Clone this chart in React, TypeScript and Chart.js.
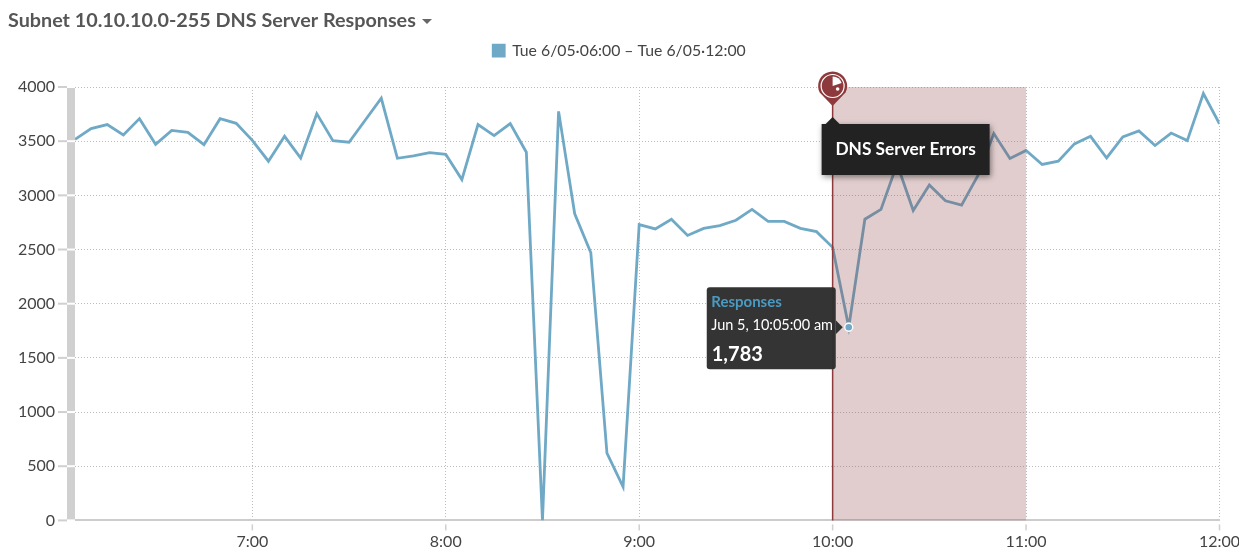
import React, { useEffect, useRef } from "react";
import { Chart, registerables } from "chart.js";

Chart.register(...registerables);

const titleText = "Subnet 10.10.10.0-255 DNS Server Responses";
const legendText = "Tue 6/05·06:00 – Tue 6/05·12:00";
const minutes = [
  365, 370, 375, 380, 385, 390, 395, 400, 405, 410, 415, 420,
  425, 430, 435, 440, 445, 450, 455, 460, 465, 470, 475, 480,
  485, 490, 495, 500, 505, 510, 515, 520, 525, 530, 535, 540,
  545, 550, 555, 560, 565, 570, 575, 580, 585, 590, 595, 600,
  605, 610, 615, 620, 625, 630, 635, 640, 645, 650, 655, 660,
  665, 670, 675, 680, 685, 690, 695, 700, 705, 710, 715, 720,
];
const responses = [
  3517, 3616, 3653, 3557, 3708, 3471, 3600, 3582, 3468, 3708, 3665, 3508,
  3315, 3545, 3345, 3754, 3505, 3490, 3693, 3896, 3342, 3364, 3395, 3379,
  3146, 3653, 3551, 3662, 3398, 0, 3775, 2830, 2470, 620, 310, 2730,
  2690, 2780, 2630, 2695, 2720, 2770, 2870, 2760, 2760, 2695, 2665, 2520,
  1783, 2780, 2870, 3290, 2860, 3095, 2950, 2910, 3180, 3570, 3340, 3415,
  3285, 3315, 3475, 3545, 3345, 3540, 3595, 3460, 3575, 3505, 3940, 3660,
];
const hourTicks = [420, 480, 540, 600, 660, 720];
const hourLabels = ["7:00", "8:00", "9:00", "10:00", "11:00", "12:00"];
const bandStart = 600;
const bandEnd = 660;
const hoverMinute = 605;
const hoverValue = 1783;
const hoverName = "Responses";
const hoverTime = "Jun 5, 10:05:00 am";
const hoverText = "1,783";
const annotationText = "DNS Server Errors";

const LINE = "#6fa9c6";
const RED = "#8e3a3c";
const GREY = "#d0d0d0";

const decor = {
  id: "decor",
  afterLayout(chart: any) {
    const t = chart.titleBlock;
    t.left += 8;
    t.right += 8;
    const l = chart.legend;
    const dx = 619.5 - (l.left + l.right) / 2;
    l.left += dx;
    l.right += dx;
    l.top -= 18.5;
    l.bottom -= 18.5;
  },
  beforeDatasetsDraw(chart: any) {
    const { ctx, scales, chartArea: a } = chart;
    const y = scales.y;
    const x = scales.x;
    ctx.save();
    ctx.fillStyle = GREY;
    ctx.fillRect(a.left - 8, a.top, 8, a.bottom - a.top);
    for (const t of y.ticks) {
      const py = y.getPixelForValue(t.value);
      ctx.fillStyle = GREY;
      ctx.fillRect(a.left - 17, py - 1, 9, 2);
      ctx.fillStyle = "#ffffff";
      ctx.fillRect(a.left - 8, py - 1, 8, 2);
    }
    ctx.fillStyle = GREY;
    for (const m of hourTicks) {
      ctx.fillRect(x.getPixelForValue(m) - 0.75, a.bottom + 4, 1.5, 6);
    }
    ctx.fillStyle = "#666666";
    ctx.beginPath();
    ctx.moveTo(422, 19);
    ctx.lineTo(432, 19);
    ctx.lineTo(427, 24);
    ctx.closePath();
    ctx.fill();
    ctx.restore();
  },
  afterDatasetsDraw(chart: any) {
    const { ctx, scales, chartArea: a } = chart;
    const x = scales.x;
    const y = scales.y;
    const bx0 = x.getPixelForValue(bandStart);
    const bx1 = x.getPixelForValue(bandEnd);
    ctx.save();
    ctx.fillStyle = "rgba(140,60,60,0.26)";
    ctx.fillRect(bx0, a.top, bx1 - bx0, a.bottom - a.top);

    // annotation stem and pin
    ctx.strokeStyle = RED;
    ctx.lineWidth = 1.5;
    ctx.beginPath();
    ctx.moveTo(bx0, a.top + 18);
    ctx.lineTo(bx0, a.bottom);
    ctx.stroke();

    const cy = a.top - 1;
    ctx.fillStyle = RED;
    ctx.beginPath();
    ctx.arc(bx0, cy, 14.5, Math.PI * 0.85, Math.PI * 0.15);
    ctx.lineTo(bx0, cy + 20);
    ctx.closePath();
    ctx.fill();
    ctx.strokeStyle = "#ffffff";
    ctx.lineWidth = 1.2;
    ctx.beginPath();
    ctx.arc(bx0, cy, 11.5, 0, Math.PI * 2);
    ctx.stroke();
    ctx.fillStyle = "#ffffff";
    ctx.beginPath();
    ctx.moveTo(bx0, cy);
    ctx.lineTo(bx0, cy - 9.5);
    ctx.arc(bx0, cy, 9.5, -Math.PI / 2, -Math.PI * 0.1);
    ctx.closePath();
    ctx.fill();
    ctx.beginPath();
    ctx.arc(bx0 + 5, cy + 3, 1.8, 0, Math.PI * 2);
    ctx.fill();

    // annotation tooltip
    const tx = bx0 - 11;
    const ty = a.top + 37;
    const tw = 168;
    const th = 51;
    ctx.save();
    ctx.shadowColor = "rgba(0,0,0,0.45)";
    ctx.shadowBlur = 6;
    ctx.shadowOffsetX = 1;
    ctx.shadowOffsetY = 2;
    ctx.fillStyle = "#222222";
    ctx.fillRect(tx, ty, tw, th);
    ctx.restore();
    ctx.fillStyle = "#222222";
    ctx.beginPath();
    ctx.moveTo(bx0 - 8, ty + 1);
    ctx.lineTo(bx0, ty - 7);
    ctx.lineTo(bx0 + 8, ty + 1);
    ctx.closePath();
    ctx.fill();
    ctx.fillStyle = "#ffffff";
    ctx.font = "bold 17.3px Lato";
    ctx.textAlign = "center";
    ctx.textBaseline = "middle";
    ctx.fillText(annotationText, tx + tw / 2, ty + th / 2);

    // hover point, above the band
    const idx = minutes.indexOf(hoverMinute);
    chart.getDatasetMeta(0).data[idx].draw(ctx);

    // hover tooltip
    const hx = x.getPixelForValue(hoverMinute);
    const hy = y.getPixelForValue(hoverValue);
    const bw = 129;
    const bh = 82;
    const bl = hx - 142;
    const bt = hy - 40;
    ctx.fillStyle = "rgba(48,48,48,0.98)";
    ctx.beginPath();
    ctx.roundRect(bl, bt, bw, bh, 3);
    ctx.fill();
    ctx.beginPath();
    ctx.moveTo(bl + bw, hy - 7);
    ctx.lineTo(bl + bw + 7, hy);
    ctx.lineTo(bl + bw, hy + 7);
    ctx.closePath();
    ctx.fill();
    ctx.textAlign = "left";
    ctx.textBaseline = "middle";
    ctx.fillStyle = "#4a9ac2";
    ctx.font = "bold 15px Lato";
    ctx.fillText(hoverName, bl + 4.5, bt + 15);
    ctx.fillStyle = "#ffffff";
    ctx.font = "14.5px Lato";
    ctx.fillText(hoverTime, bl + 4.5, bt + 38);
    ctx.font = "bold 20px Lato";
    ctx.fillText(hoverText, bl + 5, bt + 67);
    ctx.restore();
  },
};

export default function App() {
  const ref = useRef<HTMLCanvasElement>(null);
  useEffect(() => {
    const chart = new Chart(ref.current as HTMLCanvasElement, {
      type: "line",
      data: {
        datasets: [
          {
            label: legendText,
            data: minutes.map((m, i) => ({ x: m, y: responses[i] })),
            borderColor: LINE,
            backgroundColor: LINE,
            borderWidth: 2.8,
            tension: 0,
            pointRadius: (c: any) => (c.raw && c.raw.x === hoverMinute ? 4 : 0),
            pointBackgroundColor: LINE,
            pointBorderColor: "#ffffff",
            pointBorderWidth: 1.4,
          },
        ],
      },
      options: {
        responsive: false,
        animation: false,
        layout: { padding: { left: 0, right: 19.5, top: 0, bottom: 0 } },
        plugins: {
          title: {
            display: true,
            text: titleText,
            align: "start",
            color: "#565656",
            font: { family: "Lato", size: 19.75, weight: "bold" },
            padding: { top: 9, bottom: 18.5 },
          },
          legend: {
            display: true,
            position: "top",
            labels: {
              boxWidth: 11,
              boxHeight: 11,
              color: "#444444",
              font: { family: "Lato", size: 15.8 },
              padding: 10,
            },
          },
          tooltip: { enabled: false },
        },
        scales: {
          x: {
            type: "linear",
            min: 365,
            max: 720,
            afterBuildTicks: (s: any) => {
              s.ticks = hourTicks.map((v) => ({ value: v }));
            },
            afterFit: (s: any) => {
              s.height = 29.5;
              s.paddingLeft = 0;
              s.paddingRight = 0;
            },
            grid: {
              color: "#bdbdbd",
              drawTicks: false,
              lineWidth: 1,
            },
            border: { color: "#cccccc", width: 2, dash: [1, 2] },
            ticks: {
              autoSkip: false,
              maxRotation: 0,
              padding: 12,
              color: "#444444",
              font: { family: "Lato", size: 16 },
              callback: (v: any) => hourLabels[hourTicks.indexOf(Number(v))] ?? "",
            },
          },
          y: {
            min: 0,
            max: 4000,
            afterFit: (s: any) => {
              s.width = 75;
            },
            grid: { color: "#bdbdbd", drawTicks: false, lineWidth: 1 },
            border: { display: false, dash: [1, 2] },
            ticks: {
              stepSize: 500,
              padding: 20,
              color: "#444444",
              font: { family: "Lato", size: 16 },
              callback: (v: any) => String(v),
            },
          },
        },
      },
      plugins: [decor],
    } as any);
    return () => chart.destroy();
  }, []);
  return (
    <div style={{ position: "absolute", left: 0, top: 0, width: 1239, height: 550, background: "#fff" }}>
      <canvas ref={ref} width={1239} height={550} style={{ display: "block" }} />
    </div>
  );
}
